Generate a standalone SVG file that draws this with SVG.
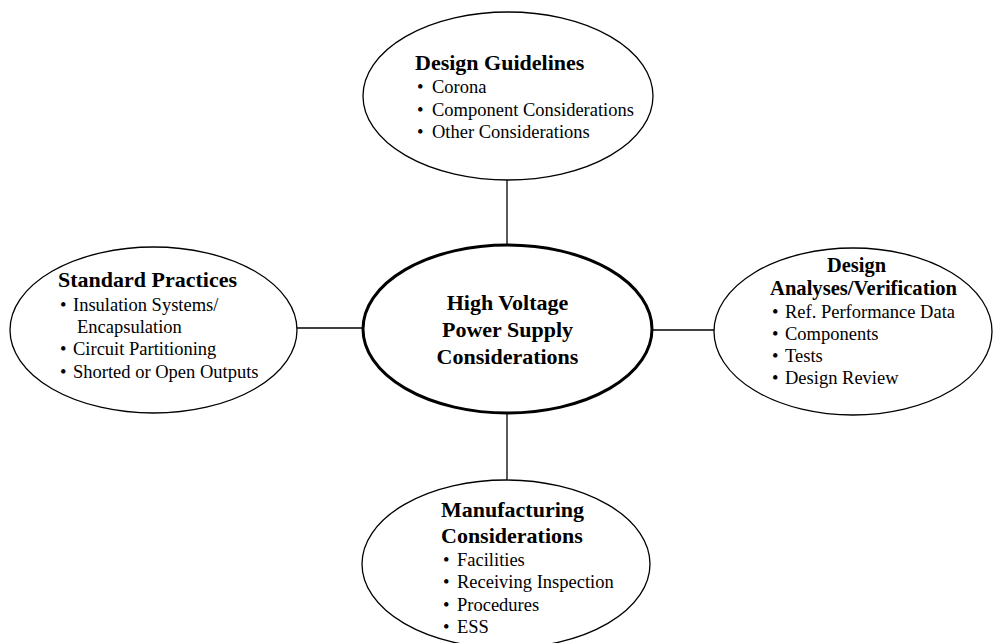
<svg xmlns="http://www.w3.org/2000/svg" width="993" height="643" viewBox="0 0 993 643">
<style>
.n{fill:#fff;stroke:#000;stroke-width:1.3}
.c{fill:#fff;stroke:#000;stroke-width:3}
.t{font-family:"Liberation Serif","Times New Roman",serif;font-weight:bold;font-size:22px;fill:#000}
.i{font-family:"Liberation Serif","Times New Roman",serif;font-size:18.5px;fill:#000}
.e{stroke:#000;stroke-width:1.3;fill:none}
</style>
<rect width="993" height="643" fill="#fff"/>
<g id="connectors">
<line class="e" x1="507" y1="180" x2="507" y2="245"/>
<line class="e" x1="297" y1="328" x2="363" y2="328"/>
<line class="e" x1="652" y1="330" x2="715" y2="330"/>
<line class="e" x1="507" y1="413" x2="507" y2="480"/>
</g>
<g id="center">
<ellipse class="c" cx="507.5" cy="329" rx="144.5" ry="84"/>
<text class="t" text-anchor="middle" x="507.5" y="310">High Voltage</text>
<text class="t" text-anchor="middle" x="507.5" y="337">Power Supply</text>
<text class="t" text-anchor="middle" x="507.5" y="364">Considerations</text>
</g>
<g id="design-guidelines">
<ellipse class="n" cx="508" cy="96" rx="145" ry="84"/>
<text class="t" x="415" y="70">Design Guidelines</text>
<text class="i" y="93"><tspan x="417">•</tspan><tspan x="432">Corona</tspan></text>
<text class="i" y="116"><tspan x="417">•</tspan><tspan x="432">Component Considerations</tspan></text>
<text class="i" y="138"><tspan x="417">•</tspan><tspan x="432">Other Considerations</tspan></text>
</g>
<g id="standard-practices">
<ellipse class="n" cx="153.5" cy="330" rx="143.5" ry="83"/>
<text class="t" x="58" y="287">Standard Practices</text>
<text class="i" y="311"><tspan x="60">•</tspan><tspan x="73">Insulation Systems/</tspan></text>
<text class="i" x="77" y="333">Encapsulation</text>
<text class="i" y="355"><tspan x="60">•</tspan><tspan x="73">Circuit Partitioning</tspan></text>
<text class="i" y="378"><tspan x="60">•</tspan><tspan x="73">Shorted or Open Outputs</tspan></text>
</g>
<g id="design-analyses">
<ellipse class="n" cx="853" cy="331.5" rx="139" ry="83.5"/>
<text class="t" x="827" y="272" textLength="59" lengthAdjust="spacingAndGlyphs">Design</text>
<text class="t" x="770" y="295" textLength="187" lengthAdjust="spacingAndGlyphs">Analyses/Verification</text>
<text class="i" y="318"><tspan x="772">•</tspan><tspan x="785">Ref. Performance Data</tspan></text>
<text class="i" y="340"><tspan x="772">•</tspan><tspan x="785">Components</tspan></text>
<text class="i" y="362"><tspan x="772">•</tspan><tspan x="785">Tests</tspan></text>
<text class="i" y="384"><tspan x="772">•</tspan><tspan x="785">Design Review</tspan></text>
</g>
<g id="manufacturing">
<ellipse class="n" cx="506" cy="564" rx="144" ry="84"/>
<text class="t" x="441" y="517">Manufacturing</text>
<text class="t" x="441" y="543">Considerations</text>
<text class="i" y="566"><tspan x="443">•</tspan><tspan x="457">Facilities</tspan></text>
<text class="i" y="588"><tspan x="443">•</tspan><tspan x="457">Receiving Inspection</tspan></text>
<text class="i" y="611"><tspan x="443">•</tspan><tspan x="457">Procedures</tspan></text>
<text class="i" y="633"><tspan x="443">•</tspan><tspan x="457">ESS</tspan></text>
</g>
</svg>
